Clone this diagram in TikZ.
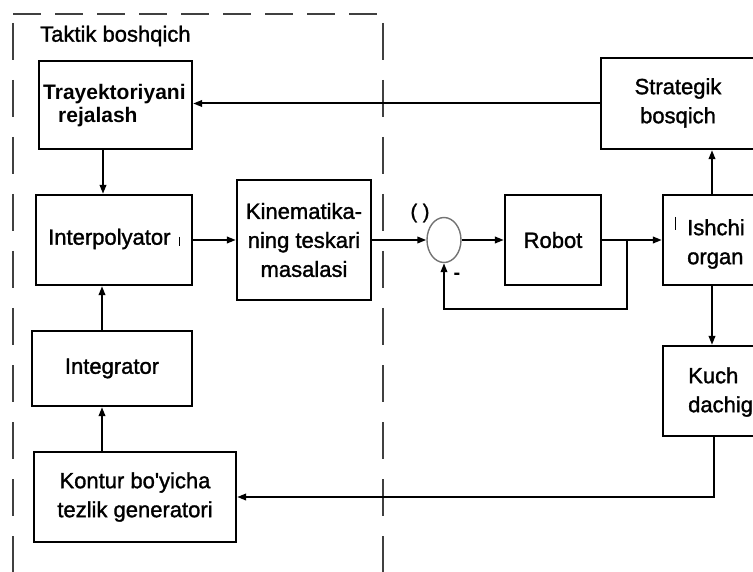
\documentclass[tikz,border=0pt]{standalone}
\usepackage{fontspec}
\setmainfont{Liberation Sans}
\newfontfamily\heavyfont{Liberation Sans}[FakeBold=1.4]
\usetikzlibrary{arrows.meta,shapes.geometric}
\begin{document}
\begin{tikzpicture}[x=1pt,y=-1pt,
  box/.style={draw,line width=2.3pt,inner sep=0pt,align=center,
    font=\heavyfont\fontsize{22}{29}\selectfont},
  lbl/.style={inner sep=0pt,font=\heavyfont\fontsize{22}{29}\selectfont},
  arr/.style={line width=2pt,-{Triangle[length=9pt,width=6.5pt]}},
  frame/.style={line width=1.4pt,black!75}]
\useasboundingbox (0,0) rectangle (753,572);
\clip (0,0) rectangle (753,572);
% dashed frame
\draw[frame,dash pattern=on 28pt off 14pt] (13,14) -- (383,14);
\draw[frame,dash pattern=on 37pt off 20pt] (13,23) -- (13,572);
\draw[frame,dash pattern=on 37pt off 20pt] (383,23) -- (383,572);
\node[lbl,anchor=west] (title) at (40,36) {Taktik boshqich};
% boxes
\node[box,minimum width=153pt,minimum height=88pt] (traj) at (115.5,105) {};
\node[lbl,anchor=west,font=\fontsize{21}{29}\selectfont\bfseries] (trajA) at (43,94) {Trayektoriyani};
\node[lbl,anchor=west,font=\fontsize{21}{29}\selectfont\bfseries] (trajB) at (58,117) {rejalash};
\node[box,minimum width=156pt,minimum height=90pt] (interp) at (114,240) {};
\node[lbl,anchor=west] (interpT) at (48,239) {Interpolyator};
\draw[line width=1pt] (179,237) -- (179,246);
\node[box,minimum width=134pt,minimum height=120pt] (kin) at (304,240) {Kinematika-\\ning teskari\\masalasi};
\node[box,minimum width=160pt,minimum height=75pt] (integ) at (112,368.5) {Integrator};
\node[box,minimum width=202pt,minimum height=90pt] (kontur) at (135,497) {Kontur bo\textquotesingle yicha\\tezlik generatori};
\node[box,minimum width=96pt,minimum height=90pt] (robot) at (553,240) {Robot};
\node[box,minimum width=137pt,minimum height=90pt] (ishchi) at (731.5,240) {};
\node[lbl,anchor=west,align=left] (ishchiT) at (687,244) {Ishchi\\organ};
\draw[line width=0.8pt] (675,217) -- (675,230);
\node[box,minimum width=199pt,minimum height=91pt] (strat) at (700.5,103.5) {};
\node[lbl,align=center] (stratT) at (678,103) {Strategik\\bosqich};
\node[box,minimum width=137pt,minimum height=90pt] (kuch) at (731.5,391) {};
\node[lbl,anchor=west,align=left] (kuchT) at (688,392) {Kuch\\dachig};
% summing junction
\node[draw=black!55,line width=1.4pt,ellipse,minimum width=34pt,minimum height=45pt,inner sep=0pt] (sum) at (444,240) {};
\node[lbl,font=\heavyfont\fontsize{20}{24}\selectfont] (paren) at (420,213) {( )};
\node[lbl,font=\fontsize{20}{24}\selectfont\bfseries] (minus) at (457,276) {-};
% helper coordinates
\coordinate (cA) at (103,0);
\coordinate (cB) at (102,0);
\coordinate (cR) at (712,0);
\coordinate (cK) at (714,497);
\coordinate (fb) at (627,309);
\coordinate (fbt) at (627,240);
% connectors
\draw[arr] (traj.south -| cA) -- (interp.north -| cA);
\draw[arr] (integ.north -| cB) -- (interp.south -| cB);
\draw[arr] (kontur.north -| cB) -- (integ.south -| cB);
\draw[arr] (interp.east) -- (kin.west);
\draw[arr] (kin.east) -- (sum.west);
\draw[arr] (sum.east) -- (robot.west);
\draw[arr] (robot.east) -- (ishchi.west);
\draw[arr] (fbt) -- (fb) -| (sum.south);
\draw[arr] (ishchi.north -| cR) -- (strat.south -| cR);
\draw[arr] (ishchi.south -| cR) -- (kuch.north -| cR);
\draw[arr] (kuch.south -| cK) -- (cK) -- (kontur.east |- cK);
\draw[arr] (strat.west) -- (strat.west -| traj.east);
\end{tikzpicture}
\end{document}
